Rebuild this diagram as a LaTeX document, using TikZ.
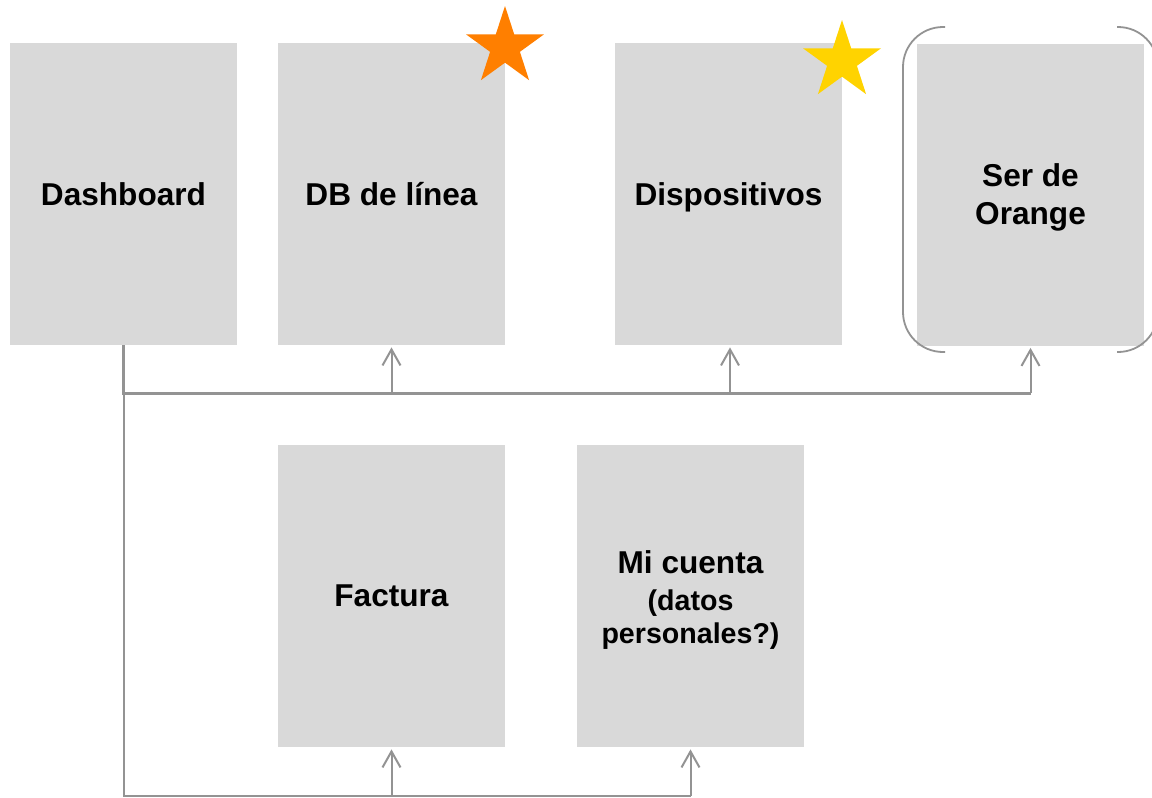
\documentclass[tikz,border=0pt]{standalone}
\usepackage{fontspec}
\setmainfont{Liberation Sans}
\usetikzlibrary{arrows.meta,shapes.geometric}
\definecolor{boxgray}{HTML}{D9D9D9}
\definecolor{linegray}{HTML}{939393}
\definecolor{starorange}{HTML}{FF7F00}
\definecolor{staryellow}{HTML}{FFD300}
\tikzset{
  card/.style={fill=boxgray, draw=none, minimum width=113.5pt, minimum height=151pt, inner sep=0pt},
  cardtext/.style={label={[align=center, yshift=-1.5pt, font=\bfseries\fontsize{15.8}{19}\selectfont]center:#1}},
  smalltext/.style={label={[align=center, yshift=-2pt, font=\bfseries\fontsize{14.3}{16.6}\selectfont]center:#1}},
  trunk/.style={draw=linegray, line width=1.5pt},
  branch/.style={draw=linegray, line width=1pt},
  uparrow/.style={draw=linegray, line width=1pt, -{Straight Barb[length=8pt,width=9pt,line width=1pt]}, shorten >=1pt},
  bracket/.style={draw=linegray, line width=0.9pt, rounded corners=20pt},
  starmark/.style={star, star points=5, star point ratio=2.618, minimum size=41pt, inner sep=0pt, draw=none}
}
\begin{document}
\begin{tikzpicture}[x=0.5pt,y=-0.5pt]
\useasboundingbox (0,0) rectangle (1152,798);
\fill[white] (0,0) rectangle (1152,798);
% cards
\node[card, cardtext={\vphantom{Dp}Dashboard}] (dash) at (123.5,194) {};
\node[card, cardtext={\vphantom{Dp}DB de línea}] (db) at (391.5,194) {};
\node[card, cardtext={Dispositivos}] (disp) at (728.5,194) {};
\node[card, cardtext={Ser de\\Orange}] (ser) at (1030.5,194.5) {};
\node[card, cardtext={\vphantom{Dp}Factura}] (fact) at (391.5,596) {};
\node[card, smalltext={{\fontsize{15.8}{16.6}\selectfont Mi cuenta}\\[2pt](datos\\personales?)}] (cuenta) at (690.5,596) {};
% stars
\node[starmark, fill=starorange] (star1) at (505,47) {};
\node[starmark, fill=staryellow] (star2) at (842,61) {};
% bracket around Ser de Orange
\draw[bracket] (945,27) -- (903,27) -- (903,352) -- (945,352);
\draw[bracket] (1117,27) -- (1158,27) -- (1158,352) -- (1117,352);
% connectors
\coordinate (j0) at (dash.south |- 0,393);
\coordinate (j1) at (db.south |- 0,393);
\coordinate (j2) at (730,393);
\coordinate (j3) at (ser.south |- 0,393);
\coordinate (k0) at (dash.south |- 0,796);
\coordinate (k1) at (fact.south |- 0,796);
\coordinate (k2) at (cuenta.south |- 0,796);
\draw[trunk] (dash.south) -- (j0) -- (j3);
\draw[branch] (j0) -- (k0) -- (k2);
\draw[uparrow] (j1) -- (db.south);
\draw[uparrow] (j2) -- (j2 |- disp.south);
\draw[uparrow] (j3) -- (ser.south);
\draw[uparrow] (k1) -- (fact.south);
\draw[uparrow] (k2) -- (cuenta.south);
\end{tikzpicture}
\end{document}
